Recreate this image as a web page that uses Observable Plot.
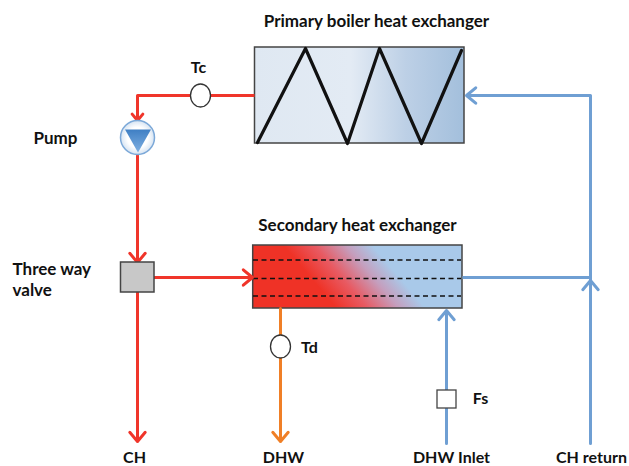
<!DOCTYPE html>
<html><head><meta charset="utf-8">
<script src="https://cdn.jsdelivr.net/npm/d3@7"></script>
<script src="https://cdn.jsdelivr.net/npm/@observablehq/plot@0.6"></script>
<style>html,body{margin:0;padding:0;background:#fff}svg{display:block}</style>
</head><body><div id="chart"></div>
<script>
const RED="#f0352a", ORANGE="#f07f26", BLUE="#6f9fd3", EDGE="#444";
// segments [x1,y1,x2,y2]
const redPipes=[[254,95,137,95]];
const redArrows=[[137,95,137,120],[137,155,137,262],[154,277,252,277],[137,292,137,441]];
const orangeArrows=[[280,308,280,441]];
const bluePipes=[[462,277,590,277],[590,280,590,95]];
const blueArrows=[[590,95,466,95],[590,443,590,280],[446,443,446,310]];
const zigzag=[[257,142],[305,48],[347,143],[379,48],[421,143],[461,50]];
const baffleY=[259.5,278,295.5];
const headings=[["Primary boiler heat exchanger",376,21],["Secondary heat exchanger",357,225]];
const labels=[
 ["Tc",198,67],["Td",309,347],["Fs",480,398],
 ["CH",134,457.5],["DHW",283,457.5],["DHW Inlet",451,457.5],["CH return",591,457.5]];
const pumpLabel=[["Pump",55,138]];
const leftLabels=[["Three way",12,269],["valve",12,290]];

const seg=a=>a.map(([x1,y1,x2,y2])=>({x1,y1,x2,y2}));
const ellipse=(rx,ry)=>({draw(c,s){const k=.5523;
  c.moveTo(-rx,0);
  c.bezierCurveTo(-rx,-k*ry,-k*rx,-ry,0,-ry);c.bezierCurveTo(k*rx,-ry,rx,-k*ry,rx,0);
  c.bezierCurveTo(rx,k*ry,k*rx,ry,0,ry);c.bezierCurveTo(-k*rx,ry,-rx,k*ry,-rx,0);c.closePath();}});
const arrows=(a,stroke)=>Plot.arrow(seg(a),{x1:"x1",y1:"y1",x2:"x2",y2:"y2",stroke,strokeWidth:3,headLength:6,headAngle:80,inset:0,strokeLinejoin:"miter"});
const defs=()=>{
  const ns="http://www.w3.org/2000/svg";
  const d=document.createElementNS(ns,"defs");
  d.innerHTML=`
  <linearGradient id="gp" x1="0" x2="1" y1="0" y2="0">
   <stop offset="0" stop-color="#dfe8f2"/><stop offset=".46" stop-color="#e3ebf4"/>
   <stop offset=".72" stop-color="#bdd0e6"/><stop offset="1" stop-color="#a3bfdc"/></linearGradient>
  <linearGradient id="gs" gradientUnits="userSpaceOnUse" x1="283" y1="245" x2="335" y2="201">
   <stop offset="0" stop-color="#ef3226"/><stop offset=".35" stop-color="#e85a62"/>
   <stop offset=".7" stop-color="#c59ebd"/><stop offset="1" stop-color="#a9c9e9"/></linearGradient>
  <linearGradient id="gt" x1="0" x2="0" y1="0" y2="1">
   <stop offset="0" stop-color="#3f7fc4"/><stop offset="1" stop-color="#7fb0e2"/></linearGradient>
  <radialGradient id="gc"><stop offset=".6" stop-color="#fff"/><stop offset="1" stop-color="#d5e3f2"/></radialGradient>`;
  return d;
};
const textOpts={x:d=>d[1],y:d=>d[2],text:d=>d[0],fontFamily:"Lato, sans-serif",fontWeight:700,fontSize:16,fill:"#111"};
const plot=Plot.plot({
  width:629,height:466,margin:0,
  x:{domain:[0,629],range:[0,629],axis:null},
  y:{domain:[0,466],range:[0,466],axis:null},
  marks:[
    defs,
    // primary exchanger
    Plot.rect([[254.5,47,464,143]],{x1:d=>d[0],y1:d=>d[1],x2:d=>d[2],y2:d=>d[3],fill:"url(#gp)",stroke:EDGE,strokeWidth:1.5}),
    Plot.line(zigzag,{x:d=>d[0],y:d=>d[1],stroke:"#111",strokeWidth:3.2,strokeLinejoin:"round",strokeLinecap:"round"}),
    // secondary exchanger
    Plot.rect([[252.7,245,462,308]],{x1:d=>d[0],y1:d=>d[1],x2:d=>d[2],y2:d=>d[3],fill:"url(#gs)",stroke:EDGE,strokeWidth:1.5}),
    Plot.ruleY(baffleY,{x1:253,x2:461,stroke:"#111",strokeWidth:1.5,strokeDasharray:"5 3.5"}),
    // pipes
    Plot.link(seg(bluePipes),{x1:"x1",y1:"y1",x2:"x2",y2:"y2",stroke:BLUE,strokeWidth:3}),
    arrows(blueArrows,BLUE),
    arrows(orangeArrows,ORANGE),
    Plot.link(seg(redPipes),{x1:"x1",y1:"y1",x2:"x2",y2:"y2",stroke:RED,strokeWidth:3}),
    arrows(redArrows,RED),
    // components
    Plot.dot([[200,95],[280,346]],{x:d=>d[0],y:d=>d[1],symbol:ellipse(10,11.5),fill:"#fff",stroke:"#333",strokeWidth:1.3}),
    Plot.dot([[137,137]],{x:d=>d[0],y:d=>d[1],r:17,fill:"url(#gc)",stroke:"#7ba8d8",strokeWidth:1.5}),
    Plot.dot([[137.5,137]],{x:d=>d[0],y:d=>d[1],symbol:{draw(c){c.moveTo(-13,-8);c.lineTo(13,-8);c.lineTo(0,15);c.closePath();}},fill:"url(#gt)"}),
    Plot.rect([[120.5,262,154,292]],{x1:d=>d[0],y1:d=>d[1],x2:d=>d[2],y2:d=>d[3],fill:"#c8c8c8",stroke:EDGE,strokeWidth:1.5}),
    Plot.rect([[437,390,456,408]],{x1:d=>d[0],y1:d=>d[1],x2:d=>d[2],y2:d=>d[3],fill:"#fff",stroke:EDGE,strokeWidth:1.3}),
    // labels
    Plot.text(headings,{...textOpts,fontSize:17}),
    Plot.text(labels,textOpts),
    Plot.text(pumpLabel,{...textOpts,fontSize:17}),
    Plot.text(leftLabels,{...textOpts,fontSize:17,textAnchor:"start"})
  ]
});
document.getElementById("chart").append(plot);
</script></body></html>
